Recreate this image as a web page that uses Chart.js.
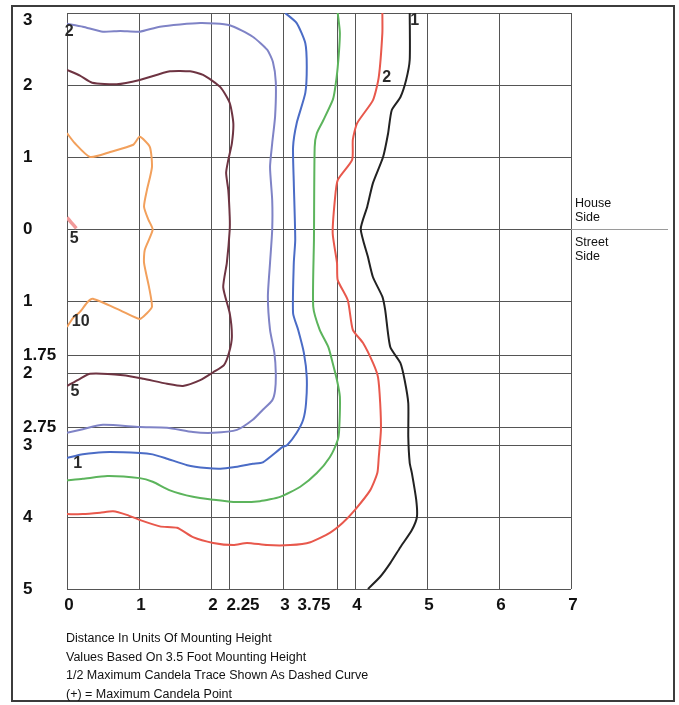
<!DOCTYPE html>
<html>
<head>
<meta charset="utf-8">
<script src="https://cdn.jsdelivr.net/npm/chart.js@4/dist/chart.umd.min.js"></script>
<style>
  html, body { margin: 0; padding: 0; background: #fff; }
  #wrap { position: relative; width: 679px; height: 705px; overflow: hidden; }
  #plot { position: absolute; left: 0; top: 0; }
  #frame { position: absolute; left: 11px; top: 5px; width: 660px; height: 693px;
           border: 2px solid #3c3c3c; pointer-events: none; }
  .note { position: absolute; font-family: "Liberation Sans", Arial, sans-serif; color: #111; }
  #notes { left: 66px; top: 629px; font-size: 12.5px; line-height: 18.7px; }
  .side { left: 575px; font-size: 12.5px; line-height: 14px; }
</style>
</head>
<body>
<div id="wrap">
  <canvas id="plot" width="679" height="705"></canvas>
  <div id="frame"></div>
  <div class="note side" style="top:196px">House<br>Side</div>
  <div class="note side" style="top:235px">Street<br>Side</div>
  <div class="note" id="notes">
    Distance In Units Of Mounting Height<br>
    Values Based On 3.5 Foot Mounting Height<br>
    1/2 Maximum Candela Trace Shown As Dashed Curve<br>
    (+) = Maximum Candela Point
  </div>
</div>
<script>
// Grid / tick positions (units of mounting height)
const xTicks = [0, 1, 2, 2.25, 3, 3.75, 4, 5, 6, 7];
const yTicks = [3, 2, 1, 0, -1, -1.75, -2, -2.75, -3, -4, -5];

// Isofootcandle contours: x = distance along, y = house side (+) / street side (-)
const fc10X = [0, 0.11, 0.32, 0.6, 0.92, 1.01, 1.15, 1.18, 1.11, 1.07, 1.13, 1.19, 1.08, 1.07, 1.14, 1.18, 1.11, 1.01, 0.74, 0.36, 0.29, 0.18, 0.08, 0];
const fc10Y = [1.33, 1.19, 1.0, 1.07, 1.17, 1.28, 1.14, 0.86, 0.54, 0.31, 0.13, -0.01, -0.29, -0.47, -0.81, -1.08, -1.17, -1.25, -1.13, -0.97, -1.01, -1.15, -1.24, -1.36];

const fc5X = [0, 0.18, 0.35, 0.69, 1.01, 1.43, 1.71, 1.89, 2.13, 2.26, 2.31, 2.29, 2.24, 2.21, 2.24, 2.26, 2.26, 2.22, 2.17, 2.26, 2.29, 2.25, 2.18, 2.03, 1.85, 1.61, 1.39, 1.06, 0.78, 0.32, 0.18, 0];
const fc5Y = [2.21, 2.13, 2.03, 2.01, 2.07, 2.19, 2.19, 2.14, 1.97, 1.75, 1.47, 1.19, 0.96, 0.78, 0.54, 0.17, -0.01, -0.47, -0.81, -1.17, -1.5, -1.72, -1.89, -1.99, -2.1, -2.18, -2.15, -2.08, -2.03, -2.01, -2.08, -2.18];

const fc2X = [0, 0.22, 0.5, 0.74, 1.01, 1.29, 1.85, 2.26, 2.58, 2.78, 2.86, 2.9, 2.89, 2.85, 2.82, 2.85, 2.85, 2.82, 2.79, 2.82, 2.88, 2.9, 2.89, 2.85, 2.72, 2.58, 2.36, 2.03, 1.75, 1.39, 1.01, 0.5, 0.22, 0];
const fc2Y = [2.85, 2.81, 2.74, 2.75, 2.74, 2.81, 2.86, 2.83, 2.67, 2.49, 2.32, 2.04, 1.56, 1.19, 0.86, 0.4, -0.01, -0.47, -0.94, -1.4, -1.72, -2.0, -2.24, -2.38, -2.51, -2.65, -2.79, -2.83, -2.82, -2.76, -2.75, -2.72, -2.78, -2.83];

const fc1X = [3.03, 3.19, 3.31, 3.33, 3.31, 3.19, 3.14, 3.15, 3.17, 3.15, 3.14, 3.21, 3.29, 3.33, 3.32, 3.28, 3.19, 3.06, 2.99, 2.72, 2.58, 2.31, 2.13, 1.94, 1.67, 1.39, 1.19, 1.01, 0.5, 0.22, 0];
const fc1Y = [3.0, 2.86, 2.58, 2.25, 1.89, 1.47, 1.14, 0.64, -0.15, -0.47, -1.17, -1.4, -1.72, -2.06, -2.42, -2.65, -2.83, -3.0, -3.03, -3.24, -3.26, -3.31, -3.33, -3.32, -3.28, -3.19, -3.13, -3.11, -3.1, -3.13, -3.18];

const fcHalfX = [3.76, 3.79, 3.76, 3.72, 3.69, 3.56, 3.47, 3.44, 3.43, 3.42, 3.51, 3.63, 3.69, 3.75, 3.79, 3.78, 3.76, 3.65, 3.47, 3.24, 2.96, 2.68, 2.31, 2.03, 1.75, 1.43, 1.19, 1.01, 0.56, 0.22, 0];
const fcHalfY = [3.0, 2.72, 2.25, 1.93, 1.79, 1.51, 1.33, 1.14, -0.15, -1.08, -1.4, -1.64, -1.86, -2.1, -2.33, -2.79, -2.93, -3.17, -3.39, -3.58, -3.72, -3.78, -3.79, -3.76, -3.72, -3.63, -3.51, -3.46, -3.43, -3.47, -3.49];

const fcFifthX = [4.38, 4.38, 4.33, 4.25, 4.03, 3.97, 3.96, 3.76, 3.72, 3.69, 3.75, 3.76, 3.9, 3.97, 4.11, 4.25, 4.32, 4.35, 4.36, 4.33, 4.31, 4.21, 4.0, 3.83, 3.65, 3.38, 3.1, 2.78, 2.5, 2.31, 2.03, 1.75, 1.53, 1.29, 1.01, 0.83, 0.64, 0.46, 0.22, 0];
const fcFifthY = [3.0, 2.72, 2.11, 1.79, 1.47, 1.24, 0.96, 0.68, 0.4, -0.06, -0.47, -0.71, -0.99, -1.4, -1.58, -1.86, -2.06, -2.42, -2.79, -3.17, -3.39, -3.63, -3.9, -4.08, -4.22, -4.35, -4.39, -4.39, -4.36, -4.39, -4.36, -4.28, -4.15, -4.13, -4.04, -3.97, -3.92, -3.94, -3.96, -3.96];

const fcTenthX = [4.76, 4.76, 4.71, 4.63, 4.51, 4.46, 4.39, 4.25, 4.17, 4.08, 4.18, 4.25, 4.38, 4.42, 4.49, 4.63, 4.69, 4.74, 4.74, 4.76, 4.79, 4.85, 4.86, 4.79, 4.63, 4.49, 4.35, 4.18];
const fcTenthY = [3.0, 2.35, 2.07, 1.83, 1.65, 1.33, 1.0, 0.64, 0.31, 0.0, -0.39, -0.67, -0.94, -1.13, -1.64, -1.86, -2.1, -2.42, -2.89, -3.25, -3.39, -3.76, -4.0, -4.18, -4.42, -4.64, -4.83, -5.0];

const fcPeakX = [0, 0.06, 0.13];
const fcPeakY = [0.16, 0.09, 0.01];

// Curve labels: text and the point where each sits
const curveLabels = ['10', '5', '2', '1', '2', '1', '5'];
const curveLabelX = [0.19, 0.11, 0.03, 0.15, 4.44, 4.83, 0.1];
const curveLabelY = [-1.28, -2.26, 2.74, -3.26, 2.1, 2.9, -0.13];

const pts = (xs, ys) => xs.map((x, i) => ({ x, y: ys[i] }));

const contours = [
  { xs: fc10X, ys: fc10Y, color: '#f2a05c' },
  { xs: fc5X, ys: fc5Y, color: '#6e3442' },
  { xs: fc2X, ys: fc2Y, color: '#7f83c6' },
  { xs: fc1X, ys: fc1Y, color: '#4b6cc6' },
  { xs: fcHalfX, ys: fcHalfY, color: '#5cb45c' },
  { xs: fcFifthX, ys: fcFifthY, color: '#e8584c' },
  { xs: fcTenthX, ys: fcTenthY, color: '#222222' },
  { xs: fcPeakX, ys: fcPeakY, color: '#f29a9a', width: 3.5 }
];

const FONT = '"Liberation Sans", Arial, sans-serif';

const overlay = {
  id: 'overlay',
  beforeDatasetsDraw(chart) {
    // house / street divider continues past the grid
    const { ctx, chartArea, scales } = chart;
    const y0 = Math.round(scales.y.getPixelForValue(0)) + 0.5;
    ctx.save();
    ctx.strokeStyle = '#9a9a9a';
    ctx.lineWidth = 1;
    ctx.beginPath();
    ctx.moveTo(chartArea.right, y0);
    ctx.lineTo(chartArea.right + 97, y0);
    ctx.stroke();
    ctx.restore();
  },
  afterDatasetsDraw(chart) {
    const { ctx, chartArea, scales } = chart;
    ctx.save();
    // curve value labels
    ctx.fillStyle = '#2a2a2a';
    ctx.font = 'bold 16px ' + FONT;
    ctx.textAlign = 'center';
    ctx.textBaseline = 'middle';
    curveLabels.forEach((t, i) => {
      ctx.fillText(t, scales.x.getPixelForValue(curveLabelX[i]), scales.y.getPixelForValue(curveLabelY[i]));
    });
    // axis tick labels
    ctx.fillStyle = '#111';
    ctx.font = 'bold 17px ' + FONT;
    const xShift = { 2.25: 12, 3.75: -25 };
    xTicks.forEach(v => {
      const px = scales.x.getPixelForValue(v) + 2 + (xShift[v] || 0);
      ctx.fillText(String(v), px, chartArea.bottom + 16);
    });
    ctx.textAlign = 'left';
    yTicks.forEach(v => {
      const py = Math.max(scales.y.getPixelForValue(v), chartArea.top + 7);
      ctx.fillText(String(Math.abs(v)), 23, py);
    });
    ctx.restore();
  }
};

new Chart(document.getElementById('plot'), {
  type: 'scatter',
  data: {
    datasets: contours.map(c => ({
      data: pts(c.xs, c.ys),
      showLine: true,
      borderColor: c.color,
      borderWidth: c.width || 2,
      pointRadius: 0,
      tension: 0.2,
      fill: false
    }))
  },
  options: {
    responsive: false,
    animation: false,
    events: [],
    layout: { padding: { left: 67, right: 108, top: 13, bottom: 116 } },
    plugins: { legend: { display: false }, tooltip: { enabled: false } },
    scales: {
      x: {
        type: 'linear', min: 0, max: 7,
        afterBuildTicks: s => { s.ticks = xTicks.map(value => ({ value })); },
        afterFit: s => { s.height = 0; },
        ticks: { display: false },
        border: { display: false },
        grid: { color: '#555555', lineWidth: 1, drawTicks: false }
      },
      y: {
        type: 'linear', min: -5, max: 3,
        afterBuildTicks: s => { s.ticks = yTicks.map(value => ({ value })); },
        afterFit: s => { s.width = 0; },
        ticks: { display: false },
        border: { display: false },
        grid: { color: '#555555', lineWidth: 1, drawTicks: false }
      }
    }
  },
  plugins: [overlay]
});
</script>
</body>
</html>
